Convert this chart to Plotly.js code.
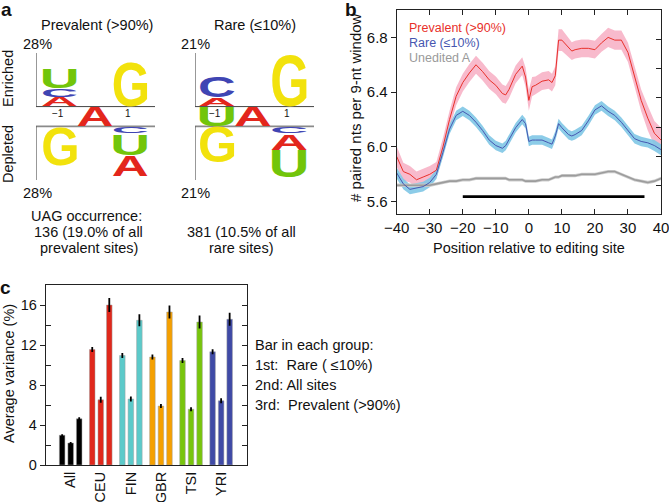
<!DOCTYPE html>
<html><head><meta charset="utf-8">
<script src="https://cdn.plot.ly/plotly-3.0.1.min.js"></script>
<style>html,body{margin:0;padding:0;background:#fff;} #chart{width:669px;height:502px;}</style>
</head><body><div id="chart"></div>
<script>
const W = 669, H = 502;
const FONT = '"Liberation Sans", Arial, sans-serif';

// ---------- Panel a : sequence logos (% information) ----------
const prevEnrPos = [-1, -1, -1, 1];
const prevEnrLet = ['A', 'C', 'U', 'G'];
const prevEnrVal = [5.0, 4.7, 10.7, 23.8];
const prevDepPos = [-1, 1, 1, 1];
const prevDepLet = ['G', 'C', 'U', 'A'];
const prevDepVal = [20.2, 3.8, 11.2, 11.2];
const prevMidPos = [0];
const prevMidLet = ['A'];
const prevScale = 28;

const rareEnrPos = [-1, -1, 1];
const rareEnrLet = ['A', 'C', 'G'];
const rareEnrVal = [3.4, 8.5, 20.2];
const rareDepPos = [-1, 1, 1, 1];
const rareDepLet = ['G', 'C', 'A', 'U'];
const rareDepVal = [14.0, 2.7, 6.6, 10.9];
const rareMidPos = [-1, 0];
const rareMidLet = ['U', 'A'];
const rareScale = 21;

const logoTickVals = [-1, 1];
const logoTickText = ['\u22121', '1'];
const baseColors = {A: '#e3261c', C: '#3f45b3', G: '#f2e20c', U: '#72c50a'};

// ---------- Panel b : paired nts per 9-nt window ----------
const posB = [-40,-38,-36,-34,-32,-30,-28,-26,-24,-22,-20,-18,-16,-14,-12,-10,-8,-7,-6,-4,-2,-1,0,1,2,4,6,7,8,9,10,12,13,14,16,18,20,22,24,26,28,30,32,34,36,38,40];
const prevalentB = [5.93,5.82,5.80,5.76,5.78,5.80,5.83,6.00,6.20,6.37,6.47,6.54,6.60,6.55,6.49,6.45,6.39,6.38,6.42,6.53,6.59,6.51,6.34,6.44,6.45,6.48,6.49,6.47,6.52,6.78,6.78,6.73,6.70,6.71,6.72,6.72,6.71,6.76,6.80,6.78,6.78,6.69,6.52,6.34,6.21,6.10,6.05];
const prevalentErr = [0.075,0.065,0.06,0.06,0.06,0.06,0.06,0.065,0.065,0.065,0.065,0.065,0.065,0.065,0.065,0.065,0.065,0.065,0.065,0.065,0.065,0.07,0.075,0.07,0.065,0.065,0.065,0.065,0.07,0.08,0.08,0.07,0.065,0.065,0.065,0.065,0.065,0.065,0.07,0.07,0.07,0.07,0.075,0.08,0.09,0.09,0.09];
const rareB = [5.81,5.73,5.69,5.70,5.71,5.74,5.80,5.96,6.13,6.23,6.26,6.23,6.18,6.12,6.05,6.01,5.99,6.01,6.05,6.14,6.20,6.17,6.04,6.05,6.05,6.05,6.03,6.02,6.08,6.17,6.14,6.09,6.08,6.09,6.12,6.19,6.27,6.30,6.26,6.23,6.18,6.12,6.06,6.04,6.03,6.01,5.98];
const rareErr = [0.04,0.04,0.035,0.035,0.035,0.035,0.035,0.035,0.035,0.035,0.035,0.035,0.035,0.035,0.035,0.035,0.035,0.035,0.035,0.035,0.035,0.035,0.035,0.035,0.035,0.035,0.035,0.035,0.035,0.035,0.035,0.035,0.035,0.035,0.035,0.035,0.035,0.035,0.035,0.035,0.035,0.035,0.035,0.035,0.035,0.04,0.04];
const uneditedB = [5.72,5.72,5.72,5.72,5.72,5.72,5.73,5.74,5.75,5.75,5.76,5.76,5.77,5.77,5.77,5.77,5.77,5.77,5.76,5.76,5.76,5.75,5.75,5.75,5.75,5.76,5.76,5.77,5.78,5.78,5.79,5.79,5.79,5.79,5.80,5.80,5.80,5.81,5.82,5.82,5.80,5.78,5.76,5.75,5.74,5.75,5.77];
const uneditedErr = [0.012,0.012,0.012,0.012,0.012,0.012,0.012,0.012,0.012,0.012,0.012,0.012,0.012,0.012,0.012,0.012,0.012,0.012,0.012,0.012,0.012,0.012,0.012,0.012,0.012,0.012,0.012,0.012,0.012,0.012,0.012,0.012,0.012,0.012,0.012,0.012,0.012,0.012,0.012,0.012,0.012,0.012,0.012,0.012,0.012,0.012,0.012];
const seriesNamesB = ['Prevalent (>90%)', 'Rare (\u226410%)', 'Unedited A'];
const regionStart = -20, regionEnd = 35, regionY = 5.637;
const bTickVals = [-40,-30,-20,-10,0,10,20,30,40];
const bYTickVals = [5.6, 6.0, 6.4, 6.8];
const bYTickText = ['5.6', '6.0', '6.4', '6.8'];

// ---------- Panel c : average variance ----------
const groupsC = ['All', 'CEU', 'FIN', 'GBR', 'TSI', 'YRI'];
const rareC = [2.98, 11.55, 10.95, 10.8, 10.45, 11.32];
const rareCErr = [0.1, 0.25, 0.25, 0.25, 0.25, 0.25];
const allC = [2.2, 6.52, 6.6, 5.9, 5.58, 6.42];
const allCErr = [0.1, 0.3, 0.25, 0.2, 0.2, 0.25];
const prevC = [4.62, 16.0, 14.47, 15.3, 14.3, 14.57];
const prevCErr = [0.15, 0.7, 0.6, 0.65, 0.65, 0.65];
const groupColors = ['#000000', '#e0281c', '#5ccaca', '#f5a000', '#78c50c', '#3f4aa6'];
const cYTickVals = [0, 4, 8, 12, 16];
const cYMinorVals = [2, 6, 10, 14];
const cRightTicks = [2, 4, 6, 8, 10, 12, 14, 16];
const legendLinesC = ['Bar in each group:', '1st:  Rare ( \u226410%)', '2nd: All sites', '3rd:  Prevalent (>90%)'];

// ---------- helpers ----------
const annotations = [];
const shapes = [];
const letterBoxes = [];
const GAP_FRAC = 10 / 54;   // half-gap between enriched and depleted parts, relative to the scale

function txt(text, px, py, opt) {
  opt = opt || {};
  annotations.push({
    text: text, xref: 'paper', yref: 'paper', x: px / W, y: 1 - py / H,
    xanchor: opt.xanchor || 'center', yanchor: 'middle', showarrow: false,
    textangle: opt.angle || 0,
    font: {family: FONT, size: opt.size || 14.5, color: opt.color || '#111', weight: opt.weight || 'normal'}
  });
}

function buildLogo(xr, yr, scale, range, enrPos, enrLet, enrVal, depPos, depLet, depVal, midPos, midLet) {
  const g = scale * GAP_FRAC;
  function addLetter(L, p, y0, y1) {
    letterBoxes.push({idx: annotations.length, letter: L, xa: xr, ya: yr, x0: p - 0.5, x1: p + 0.5, y0: y0, y1: y1});
    annotations.push({text: L, xref: xr, yref: yr, x: p, y: (y0 + y1) / 2, showarrow: false,
      font: {family: '"Liberation Sans"', size: 40, weight: 'bold', color: baseColors[L]}});
  }
  const accE = {};
  enrPos.forEach((p, i) => { const b = accE[p] || 0; addLetter(enrLet[i], p, g + b, g + b + enrVal[i]); accE[p] = b + enrVal[i]; });
  const accD = {};
  depPos.forEach((p, i) => { const b = accD[p] || 0; addLetter(depLet[i], p, -g - b - depVal[i], -g - b); accD[p] = b + depVal[i]; });
  midPos.forEach((p, i) => addLetter(midLet[i], p, -g, g));
  // frame lines
  shapes.push({type: 'line', xref: xr, yref: yr, x0: range[0], x1: range[0], y0: g, y1: g + scale, line: {color: '#333', width: 1}});
  shapes.push({type: 'line', xref: xr, yref: yr, x0: range[0], x1: range[1], y0: g, y1: g, line: {color: '#444', width: 1}});
  shapes.push({type: 'line', xref: xr, yref: yr, x0: range[0], x1: range[1], y0: -g, y1: -g, line: {color: '#8a8a8a', width: 1.6}});
  shapes.push({type: 'line', xref: xr, yref: yr, x0: range[0], x1: range[0], y0: -g, y1: -g - scale, line: {color: '#333', width: 1}});
  return g;
}

const prevXRange = [-1.67, 1.70];
const rareXRange = [-1.61, 1.69];
const gPrev = buildLogo('x', 'y', prevScale, prevXRange, prevEnrPos, prevEnrLet, prevEnrVal, prevDepPos, prevDepLet, prevDepVal, prevMidPos, prevMidLet);
const gRare = buildLogo('x2', 'y2', rareScale, rareXRange, rareEnrPos, rareEnrLet, rareEnrVal, rareDepPos, rareDepLet, rareDepVal, rareMidPos, rareMidLet);

// position labels in the gap
logoTickVals.forEach((v, i) => {
  [['x', 'y'], ['x2', 'y2']].forEach(ax => {
    annotations.push({text: logoTickText[i], xref: ax[0], yref: ax[1], x: v, y: 0, yshift: 3, xshift: -2, showarrow: false,
      bgcolor: ax[0] === 'x2' && v === -1 ? '#ffffff' : 'rgba(0,0,0,0)', borderpad: 0,
      font: {family: FONT, size: 10, color: '#111'}});
  });
});

// panel a texts
txt('a', 6, 10, {size: 19, weight: 'bold'});
txt('Prevalent (>90%)', 96.7, 25);
txt('Rare (\u226410%)', 255.5, 25);
txt(prevScale + '%', 37.5, 43.5);
txt(prevScale + '%', 37.5, 192.5);
txt(rareScale + '%', 196, 43.5);
txt(rareScale + '%', 196, 192.5);
txt('Enriched', 8, 79, {angle: -90});
txt('Depleted', 8, 154, {angle: -90});
txt('UAG occurrence:', 87, 216);
txt('136 (19.0% of all', 88.5, 232);
txt('prevalent sites)', 88.5, 248);
txt('381 (10.5% of all', 241, 232);
txt('rare sites)', 241, 248);

// panel b texts
txt('b', 351, 10, {size: 19, weight: 'bold'});
txt(seriesNamesB[0], 407, 28, {xanchor: 'left', size: 12.5, color: '#e8302a'});
txt(seriesNamesB[1], 407, 43, {xanchor: 'left', size: 12.5, color: '#4656b0'});
txt(seriesNamesB[2], 407, 58, {xanchor: 'left', size: 12.5, color: '#9a9a9a'});
txt('# paired nts per 9-nt window', 355, 108, {angle: -90, size: 15});
txt('Position relative to editing site', 529, 248, {size: 14.5});
shapes.push({type: 'line', xref: 'x3', yref: 'y3', x0: regionStart, x1: regionEnd, y0: regionY, y1: regionY, line: {color: '#000', width: 2.6}});

// panel c texts
txt('c', 5, 287, {size: 19, weight: 'bold'});
txt('Average variance (%)', 9, 374, {angle: -90});
legendLinesC.forEach((s, i) => txt(s, 253, 345 + 20 * i, {xanchor: 'left'}));

// ---------- traces ----------
function band(x, y, e, color, xa, ya) {
  return [
    {x: x, y: y.map((v, i) => v - e[i]), xaxis: xa, yaxis: ya, mode: 'lines', line: {width: 0, color: color}, hoverinfo: 'skip', showlegend: false},
    {x: x, y: y.map((v, i) => v + e[i]), xaxis: xa, yaxis: ya, mode: 'lines', line: {width: 0, color: color}, fill: 'tonexty', fillcolor: color, hoverinfo: 'skip', showlegend: false}
  ];
}
const data = [];
data.push(...band(posB, prevalentB, prevalentErr, 'rgba(247,178,198,0.9)', 'x3', 'y3'));
data.push(...band(posB, rareB, rareErr, 'rgba(128,198,230,0.9)', 'x3', 'y3'));
data.push(...band(posB, uneditedB, uneditedErr, 'rgba(200,200,200,0.9)', 'x3', 'y3'));
data.push({x: posB, y: uneditedB, xaxis: 'x3', yaxis: 'y3', mode: 'lines', line: {color: '#9c9c9c', width: 1.6}, name: seriesNamesB[2]});
data.push({x: posB, y: prevalentB, xaxis: 'x3', yaxis: 'y3', mode: 'lines', line: {color: '#e8302a', width: 1}, name: seriesNamesB[0]});
data.push({x: posB, y: rareB, xaxis: 'x3', yaxis: 'y3', mode: 'lines', line: {color: '#4656b0', width: 1}, name: seriesNamesB[1]});
data.push({x: [], y: [], xaxis: 'x3', yaxis: 'y4', hoverinfo: 'skip', showlegend: false});

function barTrace(vals, errs, name) {
  return {type: 'bar', x: groupsC, y: vals, xaxis: 'x5', yaxis: 'y5', name: name,
    marker: {color: groupColors, line: {color: 'rgba(160,160,160,0.7)', width: 0.7}},
    error_y: {type: 'data', array: errs, visible: true, color: '#000', thickness: 1.8, width: 0}};
}
data.push(barTrace(rareC, rareCErr, 'Rare'));
data.push(barTrace(allC, allCErr, 'All sites'));
data.push(barTrace(prevC, prevCErr, 'Prevalent'));
data.push({x: [], y: [], xaxis: 'x5', yaxis: 'y6', hoverinfo: 'skip', showlegend: false});
// dummy traces to register logo axes
data.push({x: [0], y: [0], xaxis: 'x', yaxis: 'y', mode: 'markers', marker: {opacity: 0}, hoverinfo: 'skip', showlegend: false});
data.push({x: [0], y: [0], xaxis: 'x2', yaxis: 'y2', mode: 'markers', marker: {opacity: 0}, hoverinfo: 'skip', showlegend: false});

// ---------- layout ----------
function hiddenAxis(domain, range, anchor) {
  return {domain: domain, range: range, anchor: anchor, visible: false, showgrid: false, zeroline: false, fixedrange: true};
}
const LC = '#222';
const layout = {
  width: W, height: H, margin: {l: 0, r: 0, t: 0, b: 0},
  paper_bgcolor: '#fff', plot_bgcolor: 'rgba(0,0,0,0)', showlegend: false,
  font: {family: FONT, size: 14.5, color: '#111'},
  barmode: 'group', bargap: 0.15, bargroupgap: 0.35,
  xaxis: hiddenAxis([36 / W, 155 / W], prevXRange, 'y'),
  yaxis: hiddenAxis([1 - 180 / H, 1 - 53 / H], [-(prevScale + gPrev), prevScale + gPrev], 'x'),
  xaxis2: hiddenAxis([195 / W, 314 / W], rareXRange, 'y2'),
  yaxis2: hiddenAxis([1 - 180 / H, 1 - 53 / H], [-(rareScale + gRare), rareScale + gRare], 'x2'),
  xaxis3: {domain: [396.7 / W, 661 / W], anchor: 'y3', range: [-40, 40], tickmode: 'array', tickvals: bTickVals,
    ticks: 'inside', ticklen: 5, tickwidth: 1, tickcolor: LC, showline: true, linecolor: LC, linewidth: 1, mirror: 'ticks',
    showgrid: false, zeroline: false, tickfont: {size: 15}, ticklabeloverflow: 'allow'},
  yaxis3: {domain: [1 - 214 / H, 1 - 10 / H], anchor: 'x3', range: [5.51, 7.0], tickmode: 'array', tickvals: bYTickVals, ticktext: bYTickText,
    ticks: 'outside', ticklen: 5, tickcolor: LC, showline: true, linecolor: LC, linewidth: 1, showgrid: false, zeroline: false, tickfont: {size: 15}},
  yaxis4: {overlaying: 'y3', anchor: 'x3', side: 'right', range: [0.034, 6.996], tickmode: 'array', tickvals: [1, 2, 3, 4, 5, 6],
    ticks: 'inside', ticklen: 5, tickcolor: LC, showticklabels: false, showline: true, linecolor: LC, linewidth: 1, showgrid: false, zeroline: false},
  xaxis5: {domain: [45.7 / W, 247.3 / W], anchor: 'y5', type: 'category', range: [-0.83, 5.87], ticks: '', showline: true, linecolor: LC, linewidth: 1,
    mirror: true, tickangle: -90, showgrid: false, zeroline: false, tickfont: {size: 14.5}, ticklabeloverflow: 'allow'},
  yaxis5: {domain: [1 - 465 / H, 1 - 285 / H], anchor: 'x5', range: [0, 18], tickmode: 'array', tickvals: cYTickVals,
    ticks: 'outside', ticklen: 5, tickcolor: LC, showline: true, linecolor: LC, linewidth: 1, showgrid: false, zeroline: false,
    minor: {tickmode: 'array', tickvals: cYMinorVals, ticks: 'inside', ticklen: 5, tickcolor: LC, showgrid: false},
    tickfont: {size: 14.5}},
  yaxis6: {overlaying: 'y5', anchor: 'x5', side: 'right', range: [0, 18], tickmode: 'array', tickvals: cRightTicks,
    ticks: 'inside', ticklen: 5, tickcolor: LC, showticklabels: false, showline: true, linecolor: LC, linewidth: 1, showgrid: false, zeroline: false},
  annotations: annotations,
  shapes: shapes
};

function stretchLetters(gd) {
  const fl = gd._fullLayout;
  const ctx = document.createElement('canvas').getContext('2d');
  ctx.font = 'bold 40px "Liberation Sans"';
  letterBoxes.forEach(b => {
    const grp = gd.querySelector('.annotation[data-index="' + b.idx + '"]');
    if (!grp) return;
    const t = grp.querySelector('text');
    if (!t) return;
    const xa = fl[b.xa === 'x' ? 'xaxis' : 'xaxis' + b.xa.slice(1)];
    const ya = fl[b.ya === 'y' ? 'yaxis' : 'yaxis' + b.ya.slice(1)];
    let X0 = xa._offset + xa.l2p(b.x0) + 0.4, X1 = xa._offset + xa.l2p(b.x1) - 0.4;
    let Y0 = ya._offset + ya.l2p(b.y1) + 0.5, Y1 = ya._offset + ya.l2p(b.y0) - 0.5;
    if (Y1 - Y0 < 1) { Y1 = Y0 + 1; }
    const m = ctx.measureText(b.letter);
    const inkL = -m.actualBoundingBoxLeft, inkR = m.actualBoundingBoxRight;
    const inkT = -m.actualBoundingBoxAscent, inkB = m.actualBoundingBoxDescent;
    t.setAttribute('x', 0); t.setAttribute('y', 0);
    t.setAttribute('text-anchor', 'start'); t.style.textAnchor = 'start';
    t.querySelectorAll('tspan').forEach(ts => { if (ts.hasAttribute('x')) ts.setAttribute('x', 0); ts.removeAttribute('dy'); });
    const svg = t.ownerSVGElement;
    const inv = t.parentNode.getCTM().inverse();
    const p0 = svg.createSVGPoint(); p0.x = X0; p0.y = Y0;
    const p1 = svg.createSVGPoint(); p1.x = X1; p1.y = Y1;
    const q0 = p0.matrixTransform(inv), q1 = p1.matrixTransform(inv);
    const sx = (q1.x - q0.x) / (inkR - inkL), sy = (q1.y - q0.y) / (inkB - inkT);
    const tx = q0.x - inkL * sx, ty = q0.y - inkT * sy;
    t.setAttribute('transform', 'matrix(' + sx + ',0,0,' + sy + ',' + tx + ',' + ty + ')');
  });
}

const gd = document.getElementById('chart');
Plotly.newPlot(gd, data, layout, {staticPlot: true, displayModeBar: false}).then(() => stretchLetters(gd));
</script>
</body></html>
